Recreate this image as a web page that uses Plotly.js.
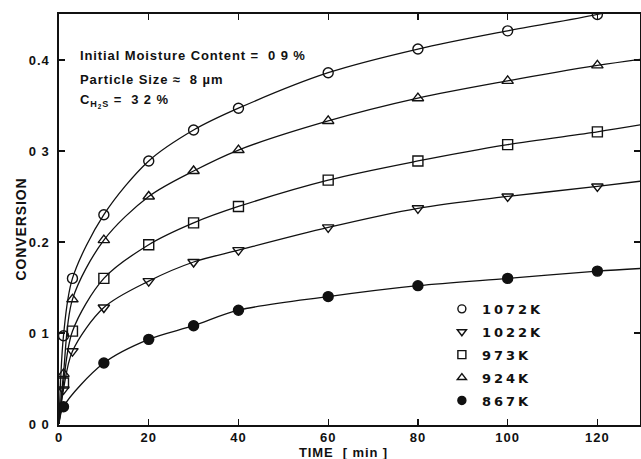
<!DOCTYPE html>
<html>
<head>
<meta charset="utf-8">
<script src="https://cdn.plot.ly/plotly-3.0.1.min.js"></script>
<style>
body{margin:0;padding:0;background:#fff;}
#chart{width:641px;height:459px;}
.legendtext{letter-spacing:3px;}
.annotation-text{letter-spacing:0.9px;}
.xtick text, .ytick text{letter-spacing:1px;}
</style>
</head>
<body>
<div id="chart"></div>
<script>
// Measured times (min)
const times = [1, 3, 10, 20, 30, 40, 60, 80, 100, 120];
const times867 = [1, 10, 20, 30, 40, 60, 80, 100, 120];
// Conversion data
const conv1072 = [0.097, 0.160, 0.230, 0.289, 0.323, 0.347, 0.386, 0.412, 0.432, 0.450];
const conv1022 = [0.038, 0.080, 0.128, 0.157, 0.178, 0.191, 0.216, 0.237, 0.250, 0.261];
const conv973  = [0.045, 0.102, 0.160, 0.197, 0.221, 0.239, 0.268, 0.289, 0.307, 0.321];
const conv924  = [0.055, 0.137, 0.202, 0.250, 0.278, 0.301, 0.333, 0.358, 0.377, 0.394];
const conv867  = [0.019, 0.067, 0.093, 0.108, 0.125, 0.140, 0.152, 0.160, 0.168];
// Fitted-curve end points (origin and right edge)
const curveStart = 0;
const curveEndT = 130;
const curveEnd = {"1072": 0.462, "1022": 0.267, "973": 0.329, "924": 0.401, "867": 0.171};
// Labels
const seriesNames = ["1072K", "1022K", "973K", "924K", "867K"];
const xTicks = [0, 20, 40, 60, 80, 100, 120];
const yTicks = [0, 0.1, 0.2, 0.3, 0.4];
const yTickText = ["0 0", "0 1", "0.2", "0 3", "0.4"];

const series = [
  {key: "1072", name: seriesNames[0], t: times, v: conv1072, sym: "circle-open"},
  {key: "1022", name: seriesNames[1], t: times, v: conv1022, sym: "triangle-down-open"},
  {key: "973",  name: seriesNames[2], t: times, v: conv973,  sym: "square-open"},
  {key: "924",  name: seriesNames[3], t: times, v: conv924,  sym: "triangle-up-open"},
  {key: "867",  name: seriesNames[4], t: times867, v: conv867, sym: "circle"}
];

const traces = [];
series.forEach(s => {
  traces.push({
    x: [0].concat(s.t, [curveEndT]),
    y: [curveStart].concat(s.v, [curveEnd[s.key]]),
    mode: "lines", type: "scatter",
    line: {color: "#111", width: 1.3, shape: "spline", smoothing: 0.9},
    showlegend: false, hoverinfo: "skip"
  });
});
series.forEach(s => {
  traces.push({
    x: s.t, y: s.v, mode: "markers", type: "scatter",
    marker: {symbol: s.sym, size: 10, color: "#111",
             line: {color: "#111", width: 1.4}},
    showlegend: false, cliponaxis: true
  });
});
series.forEach(s => {
  traces.push({
    x: [null], y: [null], mode: "markers", type: "scatter", name: s.name,
    legendgroup: s.key,
    marker: {symbol: s.sym, size: 8, color: "#111", line: {color: "#111", width: 1.4}}
  });
});

const F = "Liberation Sans, Arial, sans-serif";
const NB = "\u00a0";
const layout = {
  width: 641, height: 459,
  margin: {l: 59, r: 1, t: 14, b: 34},
  paper_bgcolor: "#fff", plot_bgcolor: "#fff",
  showlegend: true,
  legend: {x: 0.659, y: 0.319, xanchor: "left", yanchor: "top",
           bgcolor: "rgba(0,0,0,0)", itemwidth: 30, tracegroupgap: 3,
           traceorder: "grouped",
           font: {family: "DejaVu Sans, sans-serif", size: 13, weight: "bold", color: "#111"}},
  xaxis: {range: [0, 129.5], tickvals: xTicks, ticktext: xTicks.map(String),
          ticks: "inside", ticklen: 6, tickwidth: 1.3, tickcolor: "#111",
          showline: true, linecolor: "#111", linewidth: 1.6, mirror: "ticks",
          showgrid: false, zeroline: false,
          tickfont: {family: F, size: 13, weight: "bold", color: "#111"}},
  yaxis: {range: [-0.0011, 0.4505], tickvals: yTicks, ticktext: yTickText,
          ticks: "inside", ticklen: 6, tickwidth: 1.3, tickcolor: "#111",
          ticklabelstandoff: 5,
          showline: true, linecolor: "#111", linewidth: 1.6, mirror: "ticks",
          showgrid: false, zeroline: false,
          tickfont: {family: F, size: 13, weight: "bold", color: "#111"}},
  annotations: [
    {xref: "paper", yref: "paper", x: 0, y: 1, xanchor: "left", yanchor: "middle",
     xshift: 19, yshift: -41, showarrow: false, align: "left",
     text: "Initial Moisture Content" + NB + "=" + NB + NB + "0" + NB + "9" + NB + "%",
     font: {family: F, size: 13, weight: "bold", color: "#111"}},
    {xref: "paper", yref: "paper", x: 0, y: 1, xanchor: "left", yanchor: "middle",
     xshift: 19, yshift: -65, showarrow: false, align: "left",
     text: "Particle Size" + NB + "\u2248" + NB + NB + "8" + NB + "\u00b5m",
     font: {family: F, size: 13, weight: "bold", color: "#111"}},
    {xref: "paper", yref: "paper", x: 0, y: 1, xanchor: "left", yanchor: "middle",
     xshift: 19, yshift: -87, showarrow: false, align: "left",
     text: "C<sub>H<sub>2</sub>S</sub>" + NB + "=" + NB + NB + "3" + NB + "2" + NB + "%",
     font: {family: F, size: 13, weight: "bold", color: "#111"}},
    {xref: "paper", yref: "paper", x: 0, y: 0.5, xanchor: "center", yanchor: "middle",
     xshift: -39, yshift: -10, showarrow: false, textangle: -90, text: "CONVERSION",
     font: {family: F, size: 14, weight: "bold", color: "#111"}},
    {xref: "paper", yref: "paper", x: 0.489, y: 0, xanchor: "center", yanchor: "middle",
     yshift: -27, showarrow: false, text: "TIME" + NB + NB + "[" + NB + "min" + NB + "]",
     font: {family: F, size: 13, weight: "bold", color: "#111"}}
  ]
};

Plotly.newPlot("chart", traces, layout, {displayModeBar: false, staticPlot: true});
</script>
</body>
</html>
